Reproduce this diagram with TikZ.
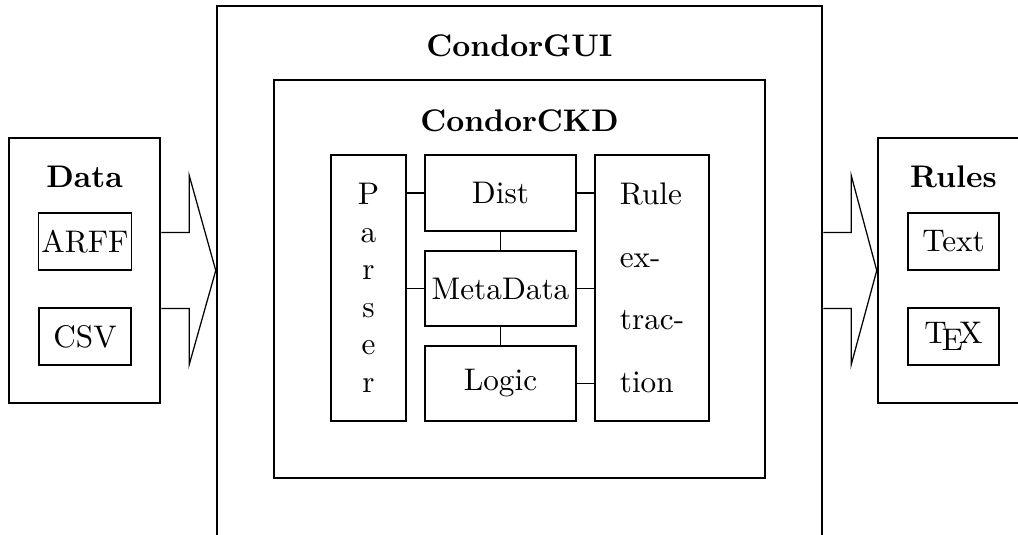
\documentclass[tikz,border=0pt]{standalone}
\usetikzlibrary{calc}
\begin{document}
\begin{tikzpicture}[x=0.32pt,y=-0.32pt,
  outerbox/.style={draw,line width=0.8pt,rectangle,inner sep=0pt},
  innerbox/.style={draw,line width=0.4pt,rectangle,inner sep=1pt},
  title/.style={font=\bfseries,anchor=base,inner sep=0pt},
  link/.style={line width=0.4pt},
  bigarrow/.style={line width=0.4pt,line join=miter}]
\useasboundingbox (0,0) rectangle (1018,534);
\clip (0,0) rectangle (1018,534);
% outer containers
\node[outerbox,minimum width=48.32pt,minimum height=84.8pt] (Data) at (84.5,270.5) {};
\node[outerbox,minimum width=48.32pt,minimum height=84.8pt] (Rules) at (953.5,270.5) {};
\node[outerbox,minimum width=193.6pt,minimum height=177.28pt] (GUI) at (519.5,283) {};
\node[outerbox,minimum width=157.12pt,minimum height=127.36pt] (CKD) at (519.5,279) {};
% titles
\node[title] (DataT) at (84.5,187) {Data};
\node[title] (RulesT) at (953.5,187) {Rules};
\node[title] (GUIT) at (519.5,56) {CondorGUI};
\node[title] (CKDT) at (519.5,131) {CondorCKD};
% data formats
\node[innerbox,minimum width=29.44pt,minimum height=18.24pt] (ARFF) at (85,241.5) {ARFF};
\node[innerbox,minimum width=29.44pt,minimum height=18.24pt] (CSV) at (85,336.5) {CSV};
\node[innerbox,minimum width=29.12pt,minimum height=18.24pt] (Text) at (953.5,241.5) {Text};
\node[innerbox,minimum width=29.12pt,minimum height=18.24pt] (TeX) at (953.5,336.5) {\TeX};
% CKD components
\node[innerbox,minimum width=24pt,minimum height=85.12pt,align=center] (Parser) at (368.5,288) {P\\a\\r\\s\\e\\r};
\node[innerbox,minimum width=48.32pt,minimum height=24.32pt] (Dist) at (500.5,193) {Dist};
\node[innerbox,minimum width=48.32pt,minimum height=24pt] (Meta) at (500.5,288.5) {MetaData};
\node[innerbox,minimum width=48.32pt,minimum height=24pt] (Logic) at (500.5,383.5) {Logic};
\node[innerbox,minimum width=36.48pt,minimum height=85.12pt,align=left] (Rule) at (652,288) {Rule\\[8pt]ex-\\[8pt]trac-\\[8pt]tion};
% links
\draw[link] (Dist.west) -- (Dist.west -| Parser.east);
\draw[link] (Meta.west) -- (Meta.west -| Parser.east);
\draw[link] (Dist.east) -- (Dist.east -| Rule.west);
\draw[link] (Meta.east) -- (Meta.east -| Rule.west);
\draw[link] (Logic.east) -- (Logic.east -| Rule.west);
\draw[link] (Dist.south) -- (Meta.north);
\draw[link] (Meta.south) -- (Logic.north);
% big arrows
\draw[bigarrow] ($(Data.east)+(0,-38)$) -- ++(28,0) -- ++(0,-57)
  -- (GUI.west |- Data.east) -- ($(Data.east)+(28,94)$) -- ++(0,-56)
  -- ($(Data.east)+(0,38)$);
\draw[bigarrow] ($(GUI.east |- Rules.west)+(0,-38)$) -- ++(28,0) -- ++(0,-57)
  -- (Rules.west) -- ($(GUI.east |- Rules.west)+(28,94)$) -- ++(0,-56)
  -- ($(GUI.east |- Rules.west)+(0,38)$);
\end{tikzpicture}
\end{document}
